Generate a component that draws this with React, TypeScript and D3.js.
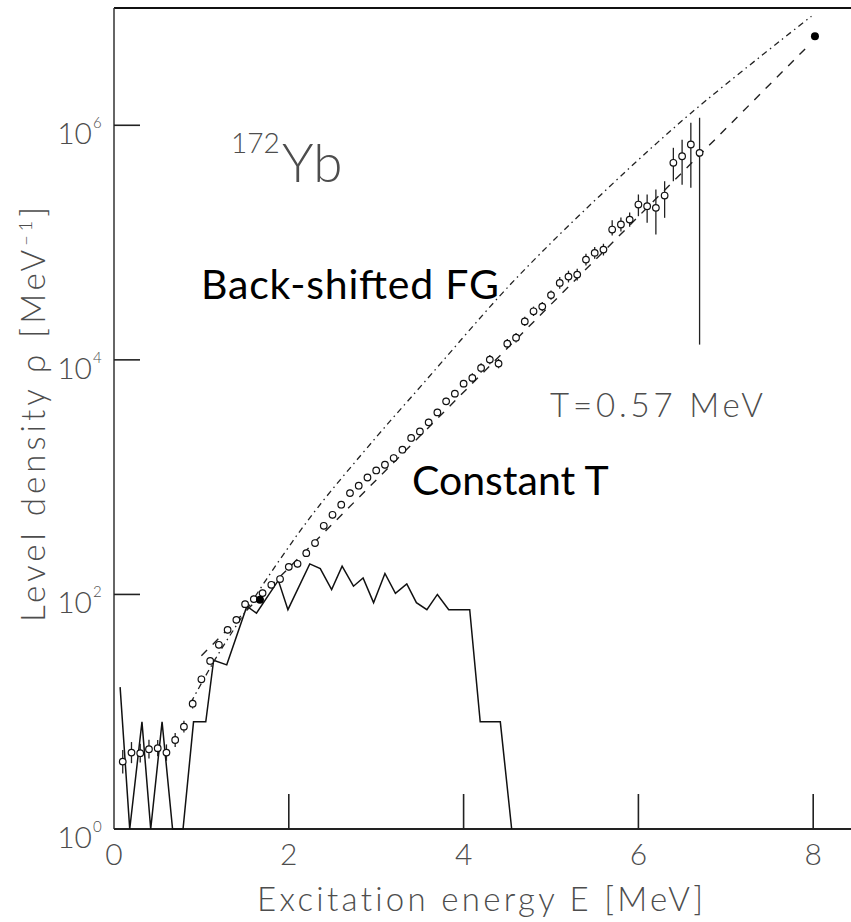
import React from "react";
import * as d3 from "d3";

// ---------- data ----------
const xTickValues = [0, 2, 4, 6, 8];
const yTickExponents = [0, 2, 4, 6];

const circleEnergy = [
  0.1, 0.2, 0.3, 0.4, 0.5, 0.6, 0.7, 0.8, 0.9, 1.0,
  1.1, 1.2, 1.3, 1.4, 1.5, 1.6, 1.7, 1.8, 1.9, 2.0,
  2.1, 2.2, 2.3, 2.4, 2.5, 2.6, 2.7, 2.8, 2.9, 3.0,
  3.1, 3.2, 3.3, 3.4, 3.5, 3.6, 3.7, 3.8, 3.9, 4.0,
  4.1, 4.2, 4.3, 4.4, 4.5, 4.6, 4.7, 4.8, 4.9, 5.0,
  5.1, 5.2, 5.3, 5.4, 5.5, 5.6, 5.7, 5.8, 5.9, 6.0,
  6.1, 6.2, 6.3, 6.4, 6.5, 6.6, 6.7,
];
const circleRho = [
  3.75, 4.48, 4.43, 4.79, 4.89, 4.48, 5.74, 7.46, 11.7, 18.9,
  27.1, 37.2, 49.9, 60.7, 82.6, 91.2, 102.6, 120.8, 135.2, 171.8,
  182.4, 224.9, 274.2, 384.6, 477.5, 582.1, 731.1, 845.3, 993, 1140,
  1276, 1455, 1714, 2158, 2455, 2931, 3565, 4426, 5152, 6266,
  7015, 8531, 10046, 9290, 13740, 15450, 21280, 25940, 28440, 35650,
  45290, 51290, 53330, 71610, 81660, 87100, 129100, 142600, 157000, 210900,
  204200, 197700, 251800, 478600, 544500, 685500, 582100,
];
// error bars in decades (log10 units)
const circleErrUp = [
  0.10, 0.09, 0.08, 0.08, 0.07, 0.07, 0.06, 0.05, 0.04, 0.03,
  0.03, 0.03, 0.03, 0.03, 0.03, 0.03, 0.03, 0.03, 0.03, 0.03,
  0.03, 0.03, 0.03, 0.03, 0.03, 0.03, 0.03, 0.03, 0.03, 0.03,
  0.03, 0.03, 0.03, 0.03, 0.03, 0.03, 0.03, 0.03, 0.03, 0.03,
  0.04, 0.04, 0.04, 0.04, 0.04, 0.04, 0.04, 0.04, 0.04, 0.04,
  0.05, 0.05, 0.05, 0.05, 0.05, 0.05, 0.08, 0.06, 0.06, 0.086,
  0.10, 0.157, 0.122, 0.128, 0.14, 0.185, 0.299,
];
const circleErrDown = [
  0.10, 0.09, 0.08, 0.08, 0.07, 0.07, 0.06, 0.05, 0.04, 0.03,
  0.03, 0.03, 0.03, 0.03, 0.03, 0.03, 0.03, 0.03, 0.03, 0.03,
  0.03, 0.03, 0.03, 0.03, 0.03, 0.03, 0.03, 0.03, 0.03, 0.03,
  0.03, 0.03, 0.03, 0.03, 0.03, 0.03, 0.03, 0.03, 0.03, 0.03,
  0.04, 0.04, 0.04, 0.04, 0.04, 0.04, 0.04, 0.04, 0.04, 0.04,
  0.05, 0.05, 0.05, 0.05, 0.05, 0.05, 0.05, 0.06, 0.06, 0.099,
  0.142, 0.228, 0.19, 0.157, 0.244, 0.369, 1.635,
];

const filledEnergy = [1.67, 8.02];
const filledRho = [90, 5.75e6];

// known discrete levels (histogram), zero bins drawn at the axis floor (1)
const histEnergy = [
  0.07, 0.18, 0.32, 0.42, 0.55, 0.67, 0.79, 0.91, 1.05, 1.14,
  1.29, 1.52, 1.63, 1.88, 1.99, 2.24, 2.36, 2.49, 2.61, 2.74,
  2.85, 2.97, 3.10, 3.22, 3.35, 3.46, 3.58, 3.70, 3.83, 4.07,
  4.19, 4.42, 4.55,
];
const histRho = [
  16.2, 1, 8.2, 1, 8.2, 1, 1, 8.2, 8.2, 27.5,
  25.1, 79.4, 69.2, 131.8, 74.1, 182, 166, 110, 174, 117.5,
  138, 85.1, 151, 102, 123, 85.1, 74.1, 100, 74.1, 74.1,
  8.2, 8.2, 1,
];

// back-shifted Fermi gas (dash-dot)
const bsfgEnergy = [0.88, 1.16, 1.5, 1.9, 2.32, 3.0, 3.54, 4.42, 4.87, 5.56, 6.59, 7.98];
const bsfgRho = [12.0, 28.2, 70.8, 199.5, 537, 2190, 6310, 35480, 79430, 251200, 1.25e6, 8.51e6];

// constant temperature, T = 0.57 MeV (dashed)
const ctEnergy = [1.0, 7.95];
const ctRho = [30, 4.82e6];

// ---------- component ----------
const W = 851;
const H = 922;

export default function App() {
  const x = d3.scaleLinear().domain([0, 8.5]).range([114, 856.9]);
  const y = d3.scaleLog().domain([1, 1e7]).range([829, 8]);

  const line = d3
    .line<[number, number]>()
    .x((d) => x(d[0]))
    .y((d) => y(d[1]));
  const smooth = d3
    .line<[number, number]>()
    .x((d) => x(d[0]))
    .y((d) => y(d[1]))
    .curve(d3.curveCatmullRom.alpha(0.5));

  const hist = histEnergy.map((e, i) => [e, histRho[i]] as [number, number]);
  const bsfg = bsfgEnergy.map((e, i) => [e, bsfgRho[i]] as [number, number]);
  const ct = ctEnergy.map((e, i) => [e, ctRho[i]] as [number, number]);

  const grayFont = "Lato, 'Liberation Sans', sans-serif";
  const gray = "#4d4d4d";
  const noLig: React.CSSProperties = { fontVariantLigatures: "none" };
  const x0 = x(0);
  const yBottom = y(1);
  const yTop = y(1e7);

  return (
    <svg
      width={W}
      height={H}
      style={{ position: "absolute", left: 0, top: 0, background: "#fff" }}
    >
      <rect x={0} y={0} width={W} height={H} fill="#fff" />

      {/* frame */}
      <line x1={x0} x2={x(8.5)} y1={yTop} y2={yTop} stroke="#111" strokeWidth={2.2} />
      <line x1={x0} x2={x0} y1={yTop} y2={yBottom} stroke="#333" strokeWidth={1.5} />
      <line x1={x0} x2={x(8.5)} y1={yBottom} y2={yBottom} stroke="#222" strokeWidth={2} />

      {/* ticks */}
      {xTickValues
        .filter((v) => v > 0)
        .map((v) => (
          <line key={"xt" + v} x1={x(v)} x2={x(v)} y1={yBottom} y2={yBottom - 35} stroke="#222" strokeWidth={1.6} />
        ))}
      {yTickExponents
        .filter((e) => e > 0)
        .map((e) => (
          <line key={"yt" + e} x1={x0} x2={x0 + 26} y1={y(Math.pow(10, e))} y2={y(Math.pow(10, e))} stroke="#222" strokeWidth={1.6} />
        ))}

      {/* tick labels */}
      {xTickValues.map((v) => (
        <text key={"xl" + v} x={x(v)} y={865} textAnchor="middle" fontFamily={grayFont} fontWeight={300} fontSize={30} fill={gray}>
          {v}
        </text>
      ))}
      {yTickExponents.map((e) => {
        const yy = y(Math.pow(10, e));
        return (
          <g key={"yl" + e}>
            <text x={92} y={yy + 19} textAnchor="end" fontFamily={grayFont} fontWeight={300} fontSize={30} fill={gray}>
              10
            </text>
            <text x={93} y={yy + 3} fontFamily={grayFont} fontWeight={300} fontSize={15} fill={gray}>
              {e}
            </text>
          </g>
        );
      })}

      {/* axis titles */}
      <text x={257} y={911} fontFamily={grayFont} fontWeight={300} fontSize={33} fill={gray} textLength={446} lengthAdjust="spacing" style={noLig}>
        Excitation energy E [MeV]
      </text>
      <text
        transform="translate(45,622) rotate(-90)"
        x={0}
        y={0}
        fontFamily={grayFont}
        fontWeight={300}
        fontSize={33}
        fill={gray}
        textLength={415}
        lengthAdjust="spacing"
        style={noLig}
      >
        Level density ρ [MeV
        <tspan dy={-13} fontSize={18}>−1</tspan>
        <tspan dy={13}>]</tspan>
      </text>

      {/* nucleus label */}
      <text x={231} y={153} fontFamily={grayFont} fontWeight={300} fontSize={28} fill={gray}>
        172
      </text>
      <text x={282} y={181.5} fontFamily={grayFont} fontWeight={300} fontSize={53} fill={gray}>
        Yb
      </text>

      {/* temperature label */}
      <text x={550} y={417} fontFamily={grayFont} fontWeight={300} fontSize={33} fill={gray} textLength={213} lengthAdjust="spacing">
        T=0.57 MeV
      </text>

      {/* curves */}
      <path d={line(hist) || ""} fill="none" stroke="#111" strokeWidth={1.5} strokeLinejoin="miter" />
      <path d={smooth(bsfg) || ""} fill="none" stroke="#222" strokeWidth={1.3} strokeDasharray="6,4,1.5,4" />
      <path d={line(ct) || ""} fill="none" stroke="#222" strokeWidth={1.4} strokeDasharray="8,8" />

      {/* error bars */}
      {circleEnergy.map((e, i) => {
        const lr = Math.log10(circleRho[i]);
        return (
          <line
            key={"eb" + i}
            x1={x(e)}
            x2={x(e)}
            y1={y(Math.pow(10, lr + circleErrUp[i]))}
            y2={y(Math.pow(10, lr - circleErrDown[i]))}
            stroke="#222"
            strokeWidth={1.3}
          />
        );
      })}

      {/* data points */}
      {circleEnergy.map((e, i) => (
        <circle key={"c" + i} cx={x(e)} cy={y(circleRho[i])} r={3.3} fill="#fff" stroke="#111" strokeWidth={1.2} />
      ))}
      {filledEnergy.map((e, i) => (
        <circle key={"f" + i} cx={x(e)} cy={y(filledRho[i])} r={4} fill="#000" />
      ))}

      {/* annotations */}
      <text x={201} y={299} fontFamily="Lato, 'Open Sans', sans-serif" fontSize={41} fill="#000" textLength={298} lengthAdjust="spacing">
        Back-shifted FG
      </text>
      <text x={412} y={495} fontFamily="Lato, 'Open Sans', sans-serif" fontSize={41} fill="#000">
        Constant T
      </text>
    </svg>
  );
}
